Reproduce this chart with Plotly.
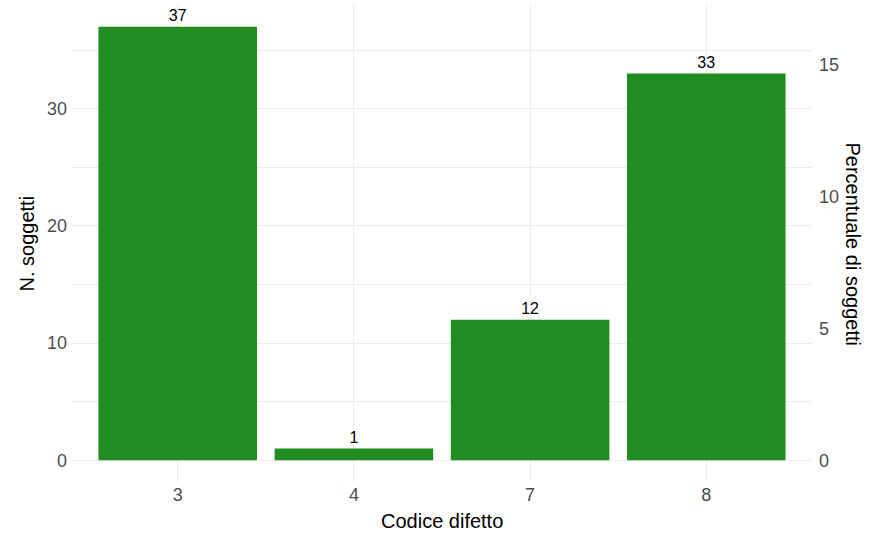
import plotly.graph_objects as go

codes = ["3", "4", "7", "8"]
counts = [37, 1, 12, 33]
total_subjects = 225
left_ticks = [0, 10, 20, 30]
right_ticks = [0, 5, 10, 15]

percents = [c / total_subjects * 100 for c in counts]

ymin, ymax = -1.85, 38.85
FONT = "Liberation Sans, Arial, sans-serif"
GRID = "#EBEBEB"
TICK = "#4D4D4D"

fig = go.Figure()
fig.add_trace(go.Bar(
    x=codes, y=counts, width=0.9,
    marker=dict(color="#228B22", line=dict(width=0)),
    text=[str(c) for c in counts], textposition="outside",
    textfont=dict(family=FONT, size=16, color="black"),
    cliponaxis=False, showlegend=False,
))
fig.add_trace(go.Scatter(
    x=codes, y=percents, yaxis="y2", mode="markers",
    marker=dict(opacity=0), hoverinfo="skip", showlegend=False,
))

fig.update_layout(
    width=882, height=535,
    margin=dict(l=72, r=70, t=5, b=53),
    paper_bgcolor="white", plot_bgcolor="white",
    font=dict(family=FONT),
    bargap=0.1,
    xaxis=dict(
        type="category", range=[-0.6, 3.6], automargin=False,
        showgrid=True, gridcolor=GRID, gridwidth=1,
        zeroline=False, showline=False, ticks="",
        tickfont=dict(size=18, color=TICK),
    ),
    yaxis=dict(
        range=[ymin, ymax], tickvals=left_ticks, automargin=False,
        showgrid=True, gridcolor=GRID, gridwidth=1,
        minor=dict(tickvals=[5, 15, 25, 35], showgrid=True, gridcolor=GRID, gridwidth=0.7),
        zeroline=False, showline=False, ticks="", ticklabelstandoff=4,
        tickfont=dict(size=18, color=TICK),
    ),
    yaxis2=dict(
        overlaying="y", side="right", automargin=False,
        range=[ymin * 100 / total_subjects, ymax * 100 / total_subjects],
        tickvals=right_ticks, showgrid=False, zeroline=False, showline=False, ticks="",
        ticklabelstandoff=6,
        tickfont=dict(size=18, color=TICK),
    ),
    annotations=[
        dict(text="Codice difetto", xref="paper", yref="paper", x=0.5, y=0,
             xanchor="center", yshift=-52, yanchor="bottom", showarrow=False,
             font=dict(size=20, color="black")),
        dict(text="N. soggetti", xref="paper", yref="paper", x=0, y=0.5,
             xanchor="center", yanchor="middle",
             xshift=-46, textangle=-90, showarrow=False,
             font=dict(size=20, color="black")),
        dict(text="Percentuale di soggetti", xref="paper", yref="paper", x=1, y=0.5,
             xanchor="center", yanchor="middle",
             xshift=41, textangle=90, showarrow=False,
             font=dict(size=20, color="black")),
    ],
)

fig.write_html("out.html", config={"displayModeBar": False},
               post_script="document.body.style.margin='0';")
